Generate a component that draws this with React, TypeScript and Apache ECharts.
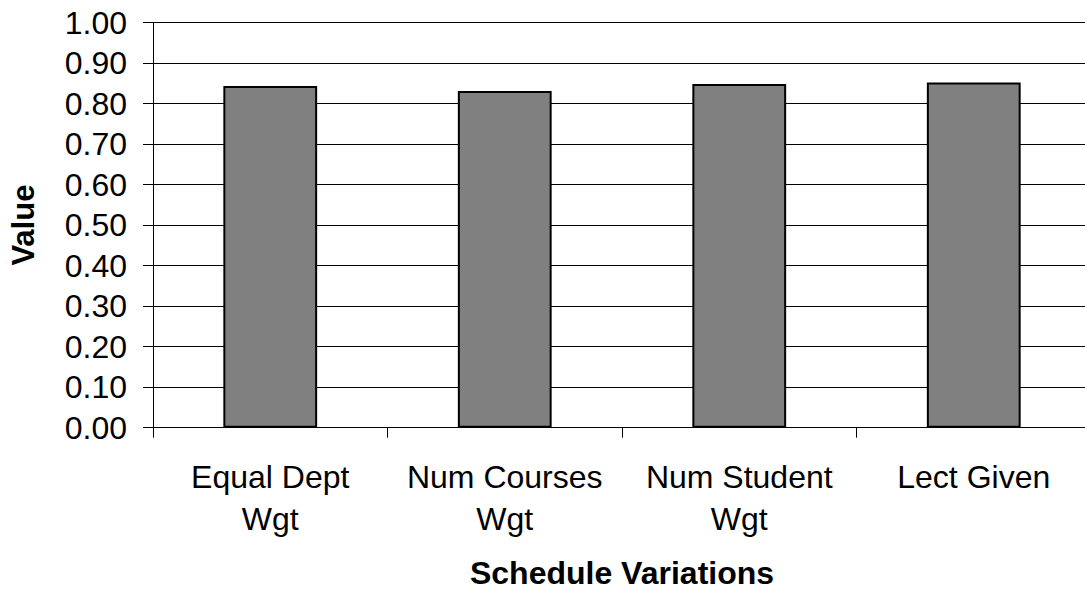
import React, { useEffect, useRef } from "react";
import * as echarts from "echarts";

const categories = ["Equal Dept\nWgt", "Num Courses\nWgt", "Num Student\nWgt", "Lect Given"];
const values = [0.843, 0.831, 0.848, 0.852];
const yMin = 0;
const yMax = 1;
const yInterval = 0.1;

export default function App() {
  const ref = useRef<HTMLDivElement>(null);
  useEffect(() => {
    if (!ref.current) return;
    const chart = echarts.init(ref.current, null, { renderer: "svg" });
    const font = "'Liberation Sans', Arial, sans-serif";
    chart.setOption({
      animation: false,
      backgroundColor: "#ffffff",
      grid: {
        left: 153,
        top: 22.5,
        right: -6,
        bottom: 162.3,
        containLabel: false,
        outerBoundsMode: "none",
      },
      xAxis: {
        type: "category",
        data: categories,
        name: "Schedule Variations",
        nameLocation: "middle",
        nameGap: 129,
        nameTextStyle: { fontFamily: font, fontSize: 32, fontWeight: "bold", color: "#000" },
        axisLine: { show: true, lineStyle: { color: "#000", width: 1 } },
        axisTick: { show: true, length: 10, alignWithLabel: false, lineStyle: { color: "#000" } },
        axisLabel: {
          fontFamily: font,
          fontSize: 32,
          color: "#000",
          margin: 28,
          lineHeight: 42,
          interval: 0,
          align: "center",
        },
        splitLine: { show: false },
      },
      yAxis: {
        type: "value",
        min: yMin,
        max: yMax,
        interval: yInterval,
        name: "Value",
        nameLocation: "middle",
        nameGap: 114,
        nameRotate: 90,
        nameTextStyle: { fontFamily: font, fontSize: 31, fontWeight: "bold", color: "#000" },
        axisLine: { show: true, lineStyle: { color: "#000", width: 1 } },
        axisTick: { show: true, length: 10, lineStyle: { color: "#000" } },
        axisLabel: {
          fontFamily: font,
          fontSize: 32,
          color: "#000",
          margin: 26,
          formatter: (v: number) => v.toFixed(2),
        },
        splitLine: { show: true, lineStyle: { color: "#000", width: 1 } },
      },
      series: [
        {
          type: "bar",
          data: values,
          barWidth: "40%",
          itemStyle: { color: "#808080", borderColor: "#000", borderWidth: 2 },
        },
      ],
    });
    return () => chart.dispose();
  }, []);
  return (
    <div
      ref={ref}
      style={{ position: "fixed", left: 0, top: 0, width: 1085, height: 590 }}
    />
  );
}
